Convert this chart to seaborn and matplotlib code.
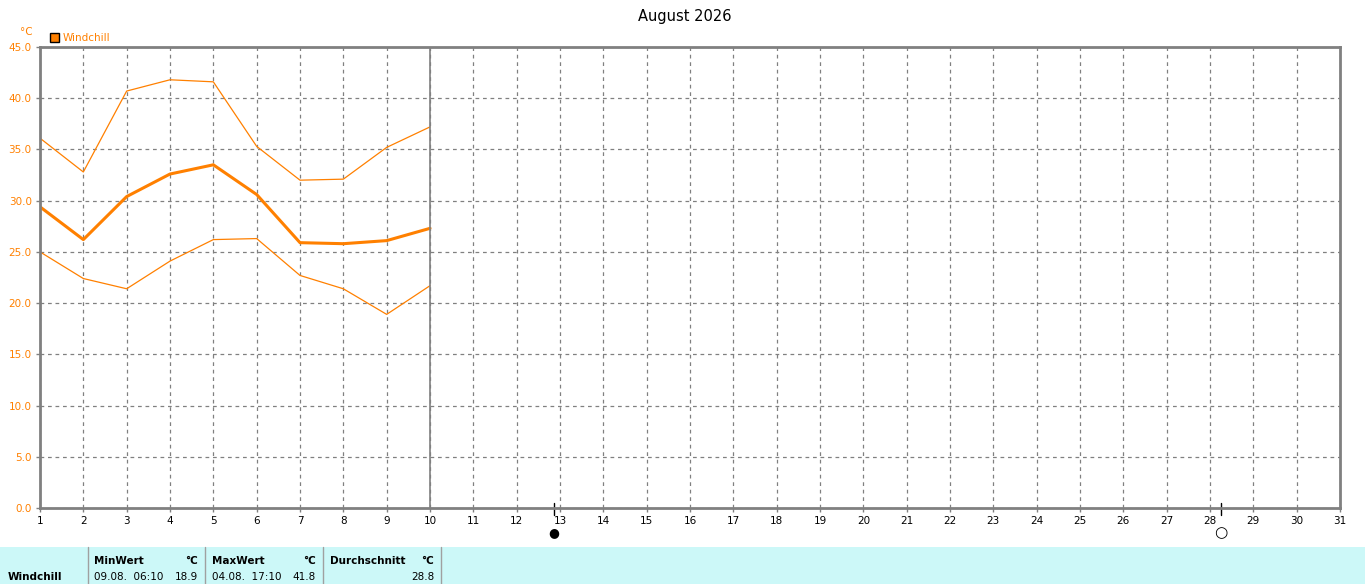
import pandas as pd
import seaborn as sns
import matplotlib.pyplot as plt
from matplotlib.patches import Rectangle

# Windchill daily values, August 2026 (days 1-10 recorded)
days = [1, 2, 3, 4, 5, 6, 7, 8, 9, 10]
wc_max = [36.1, 32.8, 40.7, 41.8, 41.6, 35.3, 32.0, 32.1, 35.2, 37.2]
wc_mean = [29.4, 26.2, 30.4, 32.6, 33.5, 30.6, 25.9, 25.8, 26.1, 27.3]
wc_min = [25.0, 22.4, 21.4, 24.1, 26.2, 26.3, 22.7, 21.4, 18.9, 21.7]

y_ticks = [0, 5, 10, 15, 20, 25, 30, 35, 40, 45]
x_ticks = list(range(1, 32))
moon_new = 12.85
moon_full = 28.25

stat_labels = ["MinWert", "MaxWert", "Durchschnitt"]
stat_dates = ["09.08.  06:10", "04.08.  17:10", ""]
stat_values = ["18.9", "41.8", "28.8"]

ORANGE = "#FF8000"
GRAY = "#808080"

sns.set_theme(style="white")
plt.rcParams["font.family"] = ["DejaVu Sans"]
plt.rcParams["text.color"] = "black"

fig = plt.figure(figsize=(13.66, 5.84), dpi=100)
W, H = 1366, 584
ax = fig.add_axes([40 / W, (H - 508) / H, 1300 / W, 461 / H])

df = pd.DataFrame({
    "day": days * 3,
    "value": wc_max + wc_mean + wc_min,
    "kind": ["max"] * 10 + ["mean"] * 10 + ["min"] * 10,
})
sns.lineplot(data=df, x="day", y="value", hue="kind", size="kind",
             sizes={"max": 0.9, "mean": 2.2, "min": 0.9},
             palette={"max": ORANGE, "mean": ORANGE, "min": ORANGE},
             legend=False, ax=ax)

ax.set_xlim(1, 31)
ax.set_ylim(0, 45)
ax.set_xticks(x_ticks)
ax.set_yticks(y_ticks)
ax.set_yticklabels([f"{v:.1f}" for v in y_ticks], color=ORANGE, fontsize=7.5)
ax.set_xticklabels([str(d) for d in x_ticks], fontsize=7.5, color="black")
ax.set_xlabel("")
ax.set_ylabel("")
ax.grid(True, color=GRAY, linestyle=(0, (3, 3)), linewidth=0.9)
ax.tick_params(axis="both", length=3, width=1, color=GRAY, pad=3, bottom=True, left=True)
for s in ax.spines.values():
    s.set_color(GRAY)
    s.set_linewidth(2)
ax.axvline(10, color=GRAY, linewidth=1.2)

# moon phase markers
for m in (moon_new, moon_full):
    ax.plot([m, m], [-0.7, 0.5], color="black", linewidth=1, clip_on=False)
ax.annotate("\u25cf", (moon_new, 0), xytext=(0, -18), textcoords="offset points",
            ha="center", va="center", fontsize=9, color="black", annotation_clip=False)
ax.annotate("\u25cb", (moon_full, 0), xytext=(0, -18), textcoords="offset points",
            ha="center", va="center", fontsize=11, color="black", annotation_clip=False)

fig.text(685 / W, 1 - 16 / H, "August 2026", ha="center", va="center", fontsize=10.5)
fig.text(20 / W, 1 - 32 / H, "°C", ha="left", va="center", fontsize=7.5, color=ORANGE)
fig.patches.append(Rectangle((50 / W, 1 - 42 / H), 9 / W, 9 / H, transform=fig.transFigure,
                             facecolor=ORANGE, edgecolor="black", linewidth=1))
fig.text(63 / W, 1 - 38 / H, "Windchill", ha="left", va="center", fontsize=7.5, color=ORANGE)

# statistics panel
fig.patches.append(Rectangle((0, 0), 1365 / W, 37 / H, transform=fig.transFigure,
                             facecolor="#CCF8F8", edgecolor="none"))
for xd in (88, 205, 323, 441):
    fig.lines.append(plt.Line2D([xd / W, xd / W], [0, 37 / H], transform=fig.transFigure,
                                color="#A0A0A0", linewidth=1))
fig.text(8 / W, 1 - 577 / H, "Windchill", fontsize=7.5, fontweight="bold", va="center")
col_left = [94, 212, 330]
col_right = [198, 316, 434]
for i in range(3):
    fig.text(col_left[i] / W, 1 - 561 / H, stat_labels[i], fontsize=7.5, fontweight="bold", va="center")
    fig.text(col_right[i] / W, 1 - 561 / H, "°C", fontsize=7.5, fontweight="bold", va="center", ha="right")
    fig.text(col_left[i] / W, 1 - 577 / H, stat_dates[i], fontsize=7.5, va="center")
    fig.text(col_right[i] / W, 1 - 577 / H, stat_values[i], fontsize=7.5, va="center", ha="right")

fig.savefig("out.png", dpi=100, facecolor="white")
